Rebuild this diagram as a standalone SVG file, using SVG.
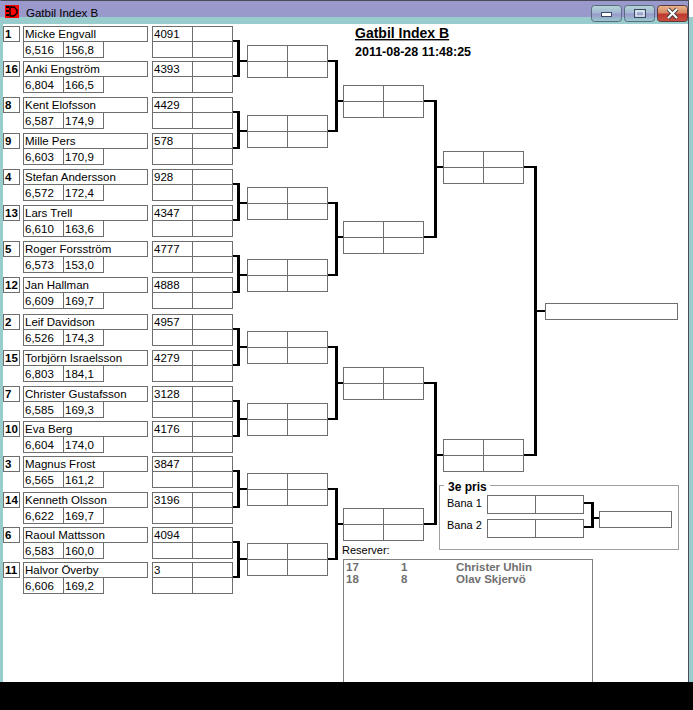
<svg xmlns="http://www.w3.org/2000/svg" width="693" height="710" viewBox="0 0 693 710">
<defs>
<style>
.b{fill:none;stroke:#6e6e6e;stroke-width:1}
.t{font-family:"Liberation Sans",Arial,sans-serif;font-size:11.5px;fill:#000}
.sd{font-family:"Liberation Sans",Arial,sans-serif;font-size:11.5px;font-weight:bold;fill:#000}
.h{fill:none;stroke:#000;stroke-width:2}
.v{fill:none;stroke:#000;stroke-width:3}
.rs{font-family:"Liberation Sans",Arial,sans-serif;font-size:11.5px;font-weight:bold;fill:#707070}
</style>
<linearGradient id="btn" x1="0" y1="0" x2="0" y2="1">
<stop offset="0" stop-color="#b4d6d6"/><stop offset="0.45" stop-color="#a4b8d4"/><stop offset="0.55" stop-color="#9999cc"/><stop offset="1" stop-color="#99cccc"/>
</linearGradient>
<linearGradient id="cls" x1="0" y1="0" x2="0" y2="1">
<stop offset="0" stop-color="#e8b890"/><stop offset="0.45" stop-color="#d88860"/><stop offset="0.55" stop-color="#c03830"/><stop offset="1" stop-color="#c85040"/>
</linearGradient>
</defs>
<rect x="0" y="0" width="693" height="710" fill="#fff"/>
<g id="window-chrome">
<rect x="0" y="0" width="689" height="18" fill="#9999cc"/>
<rect x="0" y="17" width="689" height="7" fill="#99cccc"/>
<rect x="0" y="17" width="3" height="665" fill="#99cccc"/>
<rect x="689" y="17" width="4" height="665" fill="#99cccc"/>
<path d="M0.5,0.5H688.5V682" fill="none" stroke="#4a4a5a" stroke-width="1"/>
<rect x="5" y="5" width="14" height="13" fill="#ff0000"/>
<rect x="6" y="6" width="3" height="2" fill="#000"/><rect x="6" y="10" width="3" height="2" fill="#000"/><rect x="6" y="14" width="3" height="2" fill="#000"/>
<path d="M10,7H14L17,10V13L14,16H10Z" fill="none" stroke="#000" stroke-width="1.4"/>
<text class="t" x="26" y="17">Gatbil Index B</text>
<rect x="591.5" y="5.5" width="30" height="16" rx="3" fill="url(#btn)" stroke="#5a6a80"/>
<rect x="601.5" y="12.5" width="10" height="4" fill="#fff" stroke="#3a4a60"/>
<rect x="624.5" y="5.5" width="30" height="16" rx="3" fill="url(#btn)" stroke="#5a6a80"/>
<rect x="634.5" y="9.5" width="11" height="8" fill="none" stroke="#3a4a60"/>
<rect x="636" y="11" width="8" height="5" fill="none" stroke="#fff"/>
<rect x="657.5" y="5.5" width="30" height="16" rx="3" fill="url(#cls)" stroke="#5a3a3a"/>
<path d="M668,9L677,18M677,9L668,18" stroke="#444" stroke-width="4"/>
<path d="M668,9L677,18M677,9L668,18" stroke="#fff" stroke-width="2"/>
</g>
<g id="header">
<text class="sd" x="355" y="38" style="font-size:14px" text-decoration="underline">Gatbil Index B</text>
<text class="sd" x="355" y="56" style="font-size:12.5px">2011-08-28 11:48:25</text>
</g>
<g id="e1" transform="translate(0,26)"><rect class="b" x="3.5" y="0.5" width="16" height="15"/><rect class="b" x="23.5" y="0.5" width="124" height="15"/><rect class="b" x="23.5" y="15.5" width="40" height="16"/><rect class="b" x="63.5" y="15.5" width="40" height="16"/><rect class="b" x="152.5" y="0.5" width="80" height="31"/><path class="b" d="M192.5,0.5V31.5M152.5,15.5H232.5"/><text class="sd" x="5" y="12">1</text><text class="t" x="25" y="12">Micke Engvall</text><text class="t" x="25" y="27.5">6,516</text><text class="t" x="65" y="27.5">156,8</text><text class="t" x="154" y="12">4091</text></g>
<g id="e16" transform="translate(0,61)"><rect class="b" x="3.5" y="0.5" width="16" height="15"/><rect class="b" x="23.5" y="0.5" width="124" height="15"/><rect class="b" x="23.5" y="15.5" width="40" height="16"/><rect class="b" x="63.5" y="15.5" width="40" height="16"/><rect class="b" x="152.5" y="0.5" width="80" height="31"/><path class="b" d="M192.5,0.5V31.5M152.5,15.5H232.5"/><text class="sd" x="5" y="12">16</text><text class="t" x="25" y="12">Anki Engström</text><text class="t" x="25" y="27.5">6,804</text><text class="t" x="65" y="27.5">166,5</text><text class="t" x="154" y="12">4393</text></g>
<g id="e8" transform="translate(0,97)"><rect class="b" x="3.5" y="0.5" width="16" height="15"/><rect class="b" x="23.5" y="0.5" width="124" height="15"/><rect class="b" x="23.5" y="15.5" width="40" height="16"/><rect class="b" x="63.5" y="15.5" width="40" height="16"/><rect class="b" x="152.5" y="0.5" width="80" height="31"/><path class="b" d="M192.5,0.5V31.5M152.5,15.5H232.5"/><text class="sd" x="5" y="12">8</text><text class="t" x="25" y="12">Kent Elofsson</text><text class="t" x="25" y="27.5">6,587</text><text class="t" x="65" y="27.5">174,9</text><text class="t" x="154" y="12">4429</text></g>
<g id="e9" transform="translate(0,133)"><rect class="b" x="3.5" y="0.5" width="16" height="15"/><rect class="b" x="23.5" y="0.5" width="124" height="15"/><rect class="b" x="23.5" y="15.5" width="40" height="16"/><rect class="b" x="63.5" y="15.5" width="40" height="16"/><rect class="b" x="152.5" y="0.5" width="80" height="31"/><path class="b" d="M192.5,0.5V31.5M152.5,15.5H232.5"/><text class="sd" x="5" y="12">9</text><text class="t" x="25" y="12">Mille Pers</text><text class="t" x="25" y="27.5">6,603</text><text class="t" x="65" y="27.5">170,9</text><text class="t" x="154" y="12">578</text></g>
<g id="e4" transform="translate(0,169)"><rect class="b" x="3.5" y="0.5" width="16" height="15"/><rect class="b" x="23.5" y="0.5" width="124" height="15"/><rect class="b" x="23.5" y="15.5" width="40" height="16"/><rect class="b" x="63.5" y="15.5" width="40" height="16"/><rect class="b" x="152.5" y="0.5" width="80" height="31"/><path class="b" d="M192.5,0.5V31.5M152.5,15.5H232.5"/><text class="sd" x="5" y="12">4</text><text class="t" x="25" y="12">Stefan Andersson</text><text class="t" x="25" y="27.5">6,572</text><text class="t" x="65" y="27.5">172,4</text><text class="t" x="154" y="12">928</text></g>
<g id="e13" transform="translate(0,205)"><rect class="b" x="3.5" y="0.5" width="16" height="15"/><rect class="b" x="23.5" y="0.5" width="124" height="15"/><rect class="b" x="23.5" y="15.5" width="40" height="16"/><rect class="b" x="63.5" y="15.5" width="40" height="16"/><rect class="b" x="152.5" y="0.5" width="80" height="31"/><path class="b" d="M192.5,0.5V31.5M152.5,15.5H232.5"/><text class="sd" x="5" y="12">13</text><text class="t" x="25" y="12">Lars Trell</text><text class="t" x="25" y="27.5">6,610</text><text class="t" x="65" y="27.5">163,6</text><text class="t" x="154" y="12">4347</text></g>
<g id="e5" transform="translate(0,241)"><rect class="b" x="3.5" y="0.5" width="16" height="15"/><rect class="b" x="23.5" y="0.5" width="124" height="15"/><rect class="b" x="23.5" y="15.5" width="40" height="16"/><rect class="b" x="63.5" y="15.5" width="40" height="16"/><rect class="b" x="152.5" y="0.5" width="80" height="31"/><path class="b" d="M192.5,0.5V31.5M152.5,15.5H232.5"/><text class="sd" x="5" y="12">5</text><text class="t" x="25" y="12">Roger Forsström</text><text class="t" x="25" y="27.5">6,573</text><text class="t" x="65" y="27.5">153,0</text><text class="t" x="154" y="12">4777</text></g>
<g id="e12" transform="translate(0,277)"><rect class="b" x="3.5" y="0.5" width="16" height="15"/><rect class="b" x="23.5" y="0.5" width="124" height="15"/><rect class="b" x="23.5" y="15.5" width="40" height="16"/><rect class="b" x="63.5" y="15.5" width="40" height="16"/><rect class="b" x="152.5" y="0.5" width="80" height="31"/><path class="b" d="M192.5,0.5V31.5M152.5,15.5H232.5"/><text class="sd" x="5" y="12">12</text><text class="t" x="25" y="12">Jan Hallman</text><text class="t" x="25" y="27.5">6,609</text><text class="t" x="65" y="27.5">169,7</text><text class="t" x="154" y="12">4888</text></g>
<g id="e2" transform="translate(0,314)"><rect class="b" x="3.5" y="0.5" width="16" height="15"/><rect class="b" x="23.5" y="0.5" width="124" height="15"/><rect class="b" x="23.5" y="15.5" width="40" height="16"/><rect class="b" x="63.5" y="15.5" width="40" height="16"/><rect class="b" x="152.5" y="0.5" width="80" height="31"/><path class="b" d="M192.5,0.5V31.5M152.5,15.5H232.5"/><text class="sd" x="5" y="12">2</text><text class="t" x="25" y="12">Leif Davidson</text><text class="t" x="25" y="27.5">6,526</text><text class="t" x="65" y="27.5">174,3</text><text class="t" x="154" y="12">4957</text></g>
<g id="e15" transform="translate(0,350)"><rect class="b" x="3.5" y="0.5" width="16" height="15"/><rect class="b" x="23.5" y="0.5" width="124" height="15"/><rect class="b" x="23.5" y="15.5" width="40" height="16"/><rect class="b" x="63.5" y="15.5" width="40" height="16"/><rect class="b" x="152.5" y="0.5" width="80" height="31"/><path class="b" d="M192.5,0.5V31.5M152.5,15.5H232.5"/><text class="sd" x="5" y="12">15</text><text class="t" x="25" y="12">Torbjörn Israelsson</text><text class="t" x="25" y="27.5">6,803</text><text class="t" x="65" y="27.5">184,1</text><text class="t" x="154" y="12">4279</text></g>
<g id="e7" transform="translate(0,386)"><rect class="b" x="3.5" y="0.5" width="16" height="15"/><rect class="b" x="23.5" y="0.5" width="124" height="15"/><rect class="b" x="23.5" y="15.5" width="40" height="16"/><rect class="b" x="63.5" y="15.5" width="40" height="16"/><rect class="b" x="152.5" y="0.5" width="80" height="31"/><path class="b" d="M192.5,0.5V31.5M152.5,15.5H232.5"/><text class="sd" x="5" y="12">7</text><text class="t" x="25" y="12">Christer Gustafsson</text><text class="t" x="25" y="27.5">6,585</text><text class="t" x="65" y="27.5">169,3</text><text class="t" x="154" y="12">3128</text></g>
<g id="e10" transform="translate(0,421)"><rect class="b" x="3.5" y="0.5" width="16" height="15"/><rect class="b" x="23.5" y="0.5" width="124" height="15"/><rect class="b" x="23.5" y="15.5" width="40" height="16"/><rect class="b" x="63.5" y="15.5" width="40" height="16"/><rect class="b" x="152.5" y="0.5" width="80" height="31"/><path class="b" d="M192.5,0.5V31.5M152.5,15.5H232.5"/><text class="sd" x="5" y="12">10</text><text class="t" x="25" y="12">Eva Berg</text><text class="t" x="25" y="27.5">6,604</text><text class="t" x="65" y="27.5">174,0</text><text class="t" x="154" y="12">4176</text></g>
<g id="e3" transform="translate(0,456)"><rect class="b" x="3.5" y="0.5" width="16" height="15"/><rect class="b" x="23.5" y="0.5" width="124" height="15"/><rect class="b" x="23.5" y="15.5" width="40" height="16"/><rect class="b" x="63.5" y="15.5" width="40" height="16"/><rect class="b" x="152.5" y="0.5" width="80" height="31"/><path class="b" d="M192.5,0.5V31.5M152.5,15.5H232.5"/><text class="sd" x="5" y="12">3</text><text class="t" x="25" y="12">Magnus Frost</text><text class="t" x="25" y="27.5">6,565</text><text class="t" x="65" y="27.5">161,2</text><text class="t" x="154" y="12">3847</text></g>
<g id="e14" transform="translate(0,492)"><rect class="b" x="3.5" y="0.5" width="16" height="15"/><rect class="b" x="23.5" y="0.5" width="124" height="15"/><rect class="b" x="23.5" y="15.5" width="40" height="16"/><rect class="b" x="63.5" y="15.5" width="40" height="16"/><rect class="b" x="152.5" y="0.5" width="80" height="31"/><path class="b" d="M192.5,0.5V31.5M152.5,15.5H232.5"/><text class="sd" x="5" y="12">14</text><text class="t" x="25" y="12">Kenneth Olsson</text><text class="t" x="25" y="27.5">6,622</text><text class="t" x="65" y="27.5">169,7</text><text class="t" x="154" y="12">3196</text></g>
<g id="e6" transform="translate(0,527)"><rect class="b" x="3.5" y="0.5" width="16" height="15"/><rect class="b" x="23.5" y="0.5" width="124" height="15"/><rect class="b" x="23.5" y="15.5" width="40" height="16"/><rect class="b" x="63.5" y="15.5" width="40" height="16"/><rect class="b" x="152.5" y="0.5" width="80" height="31"/><path class="b" d="M192.5,0.5V31.5M152.5,15.5H232.5"/><text class="sd" x="5" y="12">6</text><text class="t" x="25" y="12">Raoul Mattsson</text><text class="t" x="25" y="27.5">6,583</text><text class="t" x="65" y="27.5">160,0</text><text class="t" x="154" y="12">4094</text></g>
<g id="e11" transform="translate(0,562)"><rect class="b" x="3.5" y="0.5" width="16" height="15"/><rect class="b" x="23.5" y="0.5" width="124" height="15"/><rect class="b" x="23.5" y="15.5" width="40" height="16"/><rect class="b" x="63.5" y="15.5" width="40" height="16"/><rect class="b" x="152.5" y="0.5" width="80" height="31"/><path class="b" d="M192.5,0.5V31.5M152.5,15.5H232.5"/><text class="sd" x="5" y="12">11</text><text class="t" x="25" y="12">Halvor Överby</text><text class="t" x="25" y="27.5">6,606</text><text class="t" x="65" y="27.5">169,2</text><text class="t" x="154" y="12">3</text></g>
<g id="r2-1" transform="translate(247,45)"><rect class="b" x="0.5" y="0.5" width="80" height="32"/><path class="b" d="M40.5,0.5V32.5M0.5,16.5H80.5"/></g>
<g id="r2-2" transform="translate(247,115)"><rect class="b" x="0.5" y="0.5" width="80" height="32"/><path class="b" d="M40.5,0.5V32.5M0.5,16.5H80.5"/></g>
<g id="r2-3" transform="translate(247,187)"><rect class="b" x="0.5" y="0.5" width="80" height="32"/><path class="b" d="M40.5,0.5V32.5M0.5,16.5H80.5"/></g>
<g id="r2-4" transform="translate(247,259)"><rect class="b" x="0.5" y="0.5" width="80" height="32"/><path class="b" d="M40.5,0.5V32.5M0.5,16.5H80.5"/></g>
<g id="r2-5" transform="translate(247,331)"><rect class="b" x="0.5" y="0.5" width="80" height="32"/><path class="b" d="M40.5,0.5V32.5M0.5,16.5H80.5"/></g>
<g id="r2-6" transform="translate(247,403)"><rect class="b" x="0.5" y="0.5" width="80" height="32"/><path class="b" d="M40.5,0.5V32.5M0.5,16.5H80.5"/></g>
<g id="r2-7" transform="translate(247,473)"><rect class="b" x="0.5" y="0.5" width="80" height="32"/><path class="b" d="M40.5,0.5V32.5M0.5,16.5H80.5"/></g>
<g id="r2-8" transform="translate(247,543)"><rect class="b" x="0.5" y="0.5" width="80" height="32"/><path class="b" d="M40.5,0.5V32.5M0.5,16.5H80.5"/></g>
<g id="r3-1" transform="translate(343,85)"><rect class="b" x="0.5" y="0.5" width="80" height="32"/><path class="b" d="M40.5,0.5V32.5M0.5,16.5H80.5"/></g>
<g id="r3-2" transform="translate(343,221)"><rect class="b" x="0.5" y="0.5" width="80" height="32"/><path class="b" d="M40.5,0.5V32.5M0.5,16.5H80.5"/></g>
<g id="r3-3" transform="translate(343,367)"><rect class="b" x="0.5" y="0.5" width="80" height="32"/><path class="b" d="M40.5,0.5V32.5M0.5,16.5H80.5"/></g>
<g id="r3-4" transform="translate(343,508)"><rect class="b" x="0.5" y="0.5" width="80" height="32"/><path class="b" d="M40.5,0.5V32.5M0.5,16.5H80.5"/></g>
<g id="r4-1" transform="translate(443,151)"><rect class="b" x="0.5" y="0.5" width="80" height="32"/><path class="b" d="M40.5,0.5V32.5M0.5,16.5H80.5"/></g>
<g id="r4-2" transform="translate(443,439)"><rect class="b" x="0.5" y="0.5" width="80" height="32"/><path class="b" d="M40.5,0.5V32.5M0.5,16.5H80.5"/></g>
<g id="winner"><rect class="b" x="545.5" y="303.5" width="132" height="16"/></g>
<g id="third-place">
<rect x="439.5" y="485.5" width="239" height="64" fill="none" stroke="#a0a0a0"/>
<rect x="444" y="479" width="46" height="12" fill="#fff"/>
<text class="sd" x="448" y="491" style="font-size:12px">3e pris</text>
<text class="t" x="447" y="507" style="font-size:11px">Bana 1</text>
<text class="t" x="447" y="529" style="font-size:11px">Bana 2</text>
<g id="bana1"><rect class="b" x="487.5" y="495.5" width="96" height="18"/><path class="b" d="M535.5,495.5V513.5"/></g>
<g id="bana2"><rect class="b" x="487.5" y="519.5" width="96" height="18"/><path class="b" d="M535.5,519.5V537.5"/></g>
<g id="third"><rect class="b" x="599.5" y="511.5" width="72" height="16"/></g>
</g>
<g id="connectors">
<path class="h" d="M233,41H240M233,76H240M237,61H247"/><path class="v" d="M238.5,40V77"/>
<path class="h" d="M233,112H240M233,148H240M237,131H247"/><path class="v" d="M238.5,111V149"/>
<path class="h" d="M233,184H240M233,220H240M237,203H247"/><path class="v" d="M238.5,183V221"/>
<path class="h" d="M233,256H240M233,292H240M237,275H247"/><path class="v" d="M238.5,255V293"/>
<path class="h" d="M233,329H240M233,365H240M237,347H247"/><path class="v" d="M238.5,328V366"/>
<path class="h" d="M233,401H240M233,436H240M237,419H247"/><path class="v" d="M238.5,400V437"/>
<path class="h" d="M233,471H240M233,507H240M237,489H247"/><path class="v" d="M238.5,470V508"/>
<path class="h" d="M233,542H240M233,577H240M237,559H247"/><path class="v" d="M238.5,541V578"/>
<path class="h" d="M328,61H338M328,131H338M335,101H343"/><path class="v" d="M336.5,60V132"/>
<path class="h" d="M328,203H338M328,275H338M335,237H343"/><path class="v" d="M336.5,202V276"/>
<path class="h" d="M328,347H338M328,419H338M335,383H343"/><path class="v" d="M336.5,346V420"/>
<path class="h" d="M328,489H338M328,559H338M335,524H343"/><path class="v" d="M336.5,488V560"/>
<path class="h" d="M424,101H437M424,237H437M434,167H443"/><path class="v" d="M435.5,100V238"/>
<path class="h" d="M424,383H437M424,524H437M434,455H443"/><path class="v" d="M435.5,382V525"/>
<path class="h" d="M524,167H537M524,455H537M534,311H545"/><path class="v" d="M535.5,166V456"/>
<path class="h" d="M584,503H594M584,527H594M591,518H599"/><path class="v" d="M592.5,502V528"/>
</g>
<g id="reserves">
<text class="t" x="342" y="554" style="font-size:11px">Reserver:</text>
<rect x="343.5" y="559.5" width="249" height="140" fill="none" stroke="#808080"/>
<text class="rs" x="346" y="571">17</text><text class="rs" x="401" y="571">1</text><text class="rs" x="456" y="571">Christer Uhlin</text>
<text class="rs" x="346" y="583">18</text><text class="rs" x="401" y="583">8</text><text class="rs" x="456" y="583">Olav Skjervö</text>
</g>
<rect x="0" y="682" width="693" height="28" fill="#000"/>
</svg>
